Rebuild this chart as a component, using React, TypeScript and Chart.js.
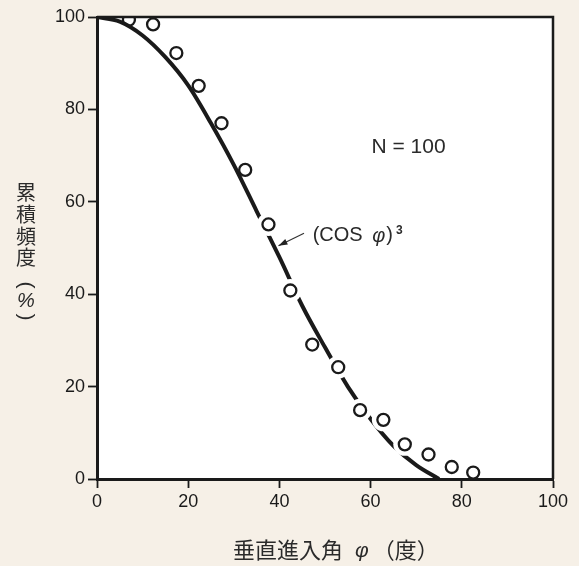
import React, { useEffect, useRef } from "react";
import { Chart, registerables } from "chart.js";

Chart.register(...registerables);

// Theoretical curve
const curveAngle = [0, 5, 10, 15, 20, 25, 30, 35, 40, 45, 50, 55, 60, 65, 70, 75];
const curveFreq = [100, 99, 96, 91.3, 85.2, 77, 68, 58, 48, 37.5, 28.5, 20, 13, 7.2, 3, 0];

// Observed points
const obsAngle = [7, 12.3, 17.4, 22.3, 27.3, 32.5, 37.6, 42.4, 47.2, 52.9, 57.7, 62.8, 67.5, 72.7, 77.8, 82.5];
const obsFreq = [99.4, 98.4, 92.2, 85.1, 77.0, 66.9, 55.1, 40.8, 29.1, 24.2, 14.9, 12.8, 7.5, 5.3, 2.6, 1.4];

// observed points where the printed curve is broken around the circle
const gapIndex = [6, 7, 9, 10, 11, 12];

const xTicks = [0, 20, 40, 60, 80, 100];
const yTicks = [0, 20, 40, 60, 80, 100];

const yTitleChars = ["累", "積", "頻", "度"];
const yUnitOpen = "(";
const yUnitSign = "%";
const yUnitClose = ")";
const xTitleMain = "垂直進入角";
const xTitlePhi = "φ";
const xTitleUnit = "（度）";
const nLabel = "N = 100";
const curveLabelA = "(COS ";
const curveLabelPhi = "φ";
const curveLabelB = ")";
const curveLabelExp = "3";

// annotation anchors in data units
const nLabelPos = { x: 60.2, y: 71.9 };
const curveLabelPos = { x: 47.3, y: 52.7 };
const arrowTail = { x: 45.4, y: 53.2 };
const arrowTip = { x: 39.8, y: 50.5 };

const BEIGE = "#f6f0e7";
const INK = "#1a1a1a";
const SANS = "'Liberation Sans', Arial, sans-serif";
const CJK = "'Noto Sans CJK JP', 'Noto Sans CJK SC', sans-serif";

const framePlugin = {
  id: "framePlugin",
  beforeDraw(chart: any) {
    const { ctx, chartArea: a, width, height } = chart;
    ctx.save();
    ctx.fillStyle = BEIGE;
    ctx.fillRect(0, 0, width, height);
    ctx.fillStyle = "#ffffff";
    ctx.fillRect(a.left, a.top, a.right - a.left, a.bottom - a.top);
    ctx.restore();
  },
  afterDraw(chart: any) {
    const { ctx, chartArea: a } = chart;
    const xs = chart.scales.x;
    const ys = chart.scales.y;
    ctx.save();
    ctx.strokeStyle = INK;
    ctx.lineWidth = 2.5;
    ctx.beginPath();
    ctx.moveTo(a.left, a.top);
    ctx.lineTo(a.right, a.top);
    ctx.lineTo(a.right, a.bottom);
    ctx.stroke();

    // y title, stacked vertically
    ctx.fillStyle = "#2a2a2a";
    ctx.font = `20px ${CJK}`;
    ctx.textAlign = "center";
    ctx.textBaseline = "middle";
    const yc = [192, 214, 236, 257];
    yTitleChars.forEach((c, i) => ctx.fillText(c, 26, yc[i]));
    ctx.font = `21px ${SANS}`;
    ctx.save();
    ctx.translate(26, 285);
    ctx.rotate(Math.PI / 2);
    ctx.fillText(yUnitOpen, 0, 0);
    ctx.restore();
    ctx.font = `italic 20px ${SANS}`;
    ctx.fillText(yUnitSign, 26, 301);
    ctx.font = `21px ${SANS}`;
    ctx.save();
    ctx.translate(26, 317);
    ctx.rotate(Math.PI / 2);
    ctx.fillText(yUnitClose, 0, 0);
    ctx.restore();

    // x title
    ctx.textAlign = "left";
    ctx.textBaseline = "middle";
    ctx.font = `22px ${CJK}`;
    const y0 = 550;
    let x0 = 233;
    ctx.fillText(xTitleMain, x0, y0);
    x0 += ctx.measureText(xTitleMain).width + 12;
    ctx.font = `italic 21px ${SANS}`;
    ctx.fillText(xTitlePhi, x0, y0 + 1);
    x0 += ctx.measureText(xTitlePhi).width + 4;
    ctx.font = `22px ${CJK}`;
    ctx.fillText(xTitleUnit, x0, y0);

    // N label
    ctx.font = `21px ${SANS}`;
    ctx.fillText(nLabel, xs.getPixelForValue(nLabelPos.x), ys.getPixelForValue(nLabelPos.y));

    // curve label
    let cx = xs.getPixelForValue(curveLabelPos.x);
    const cy = ys.getPixelForValue(curveLabelPos.y);
    ctx.font = `20px ${SANS}`;
    ctx.fillText(curveLabelA, cx, cy);
    cx += ctx.measureText(curveLabelA).width + 4;
    ctx.font = `italic 20px ${SANS}`;
    ctx.fillText(curveLabelPhi, cx, cy + 1);
    cx += ctx.measureText(curveLabelPhi).width + 1;
    ctx.font = `20px ${SANS}`;
    ctx.fillText(curveLabelB, cx, cy);
    cx += ctx.measureText(curveLabelB).width + 3;
    ctx.font = `bold 12px ${SANS}`;
    ctx.fillText(curveLabelExp, cx, cy - 5);

    // arrow
    const tx = xs.getPixelForValue(arrowTail.x);
    const ty = ys.getPixelForValue(arrowTail.y);
    const hx = xs.getPixelForValue(arrowTip.x);
    const hy = ys.getPixelForValue(arrowTip.y);
    ctx.strokeStyle = "#333";
    ctx.lineWidth = 1.2;
    ctx.beginPath();
    ctx.moveTo(tx, ty);
    ctx.lineTo(hx, hy);
    ctx.stroke();
    const ang = Math.atan2(hy - ty, hx - tx);
    const L = 9, W = 3;
    ctx.fillStyle = "#222";
    ctx.beginPath();
    ctx.moveTo(hx, hy);
    ctx.lineTo(hx - L * Math.cos(ang) + W * Math.sin(ang), hy - L * Math.sin(ang) - W * Math.cos(ang));
    ctx.lineTo(hx - L * Math.cos(ang) - W * Math.sin(ang), hy - L * Math.sin(ang) + W * Math.cos(ang));
    ctx.closePath();
    ctx.fill();
    ctx.restore();
  },
};

export default function App() {
  const ref = useRef<HTMLCanvasElement | null>(null);

  useEffect(() => {
    document.body.style.margin = "0";
    const canvas = ref.current;
    if (!canvas) return;
    const chart = new Chart(canvas, {
      type: "scatter",
      data: {
        datasets: [
          {
            label: "observed",
            data: obsAngle.map((x, i) => ({ x, y: obsFreq[i] })),
            showLine: false,
            pointRadius: 6,
            pointBackgroundColor: "rgba(255,255,255,0)",
            pointBorderColor: INK,
            pointBorderWidth: 2.3,
            order: 1,
          },
          {
            label: "gap",
            data: gapIndex.map((i) => ({ x: obsAngle[i], y: obsFreq[i] })),
            showLine: false,
            pointRadius: 11.5,
            pointBackgroundColor: "#ffffff",
            pointBorderWidth: 0,
            pointBorderColor: "#ffffff",
            order: 2,
          },
          {
            label: "curve",
            data: curveAngle.map((x, i) => ({ x, y: curveFreq[i] })),
            showLine: true,
            borderColor: INK,
            borderWidth: 4,
            pointRadius: 0,
            cubicInterpolationMode: "monotone",
            order: 3,
          } as any,
        ],
      },
      options: {
        responsive: false,
        animation: false,
        layout: { padding: { left: 0, top: 17, right: 26, bottom: 0 } },
        plugins: { legend: { display: false }, tooltip: { enabled: false } },
        scales: {
          x: {
            type: "linear",
            min: 0,
            max: 100,
            afterFit: (s: any) => {
              s.height = 87;
            },
            afterBuildTicks: (s: any) => {
              s.ticks = xTicks.map((v) => ({ value: v }));
            },
            ticks: {
              color: "#1a1a1a",
              font: { family: SANS, size: 18 },
              padding: 3,
              maxRotation: 0,
              autoSkip: false,
            },
            grid: {
              drawOnChartArea: false,
              drawTicks: true,
              tickLength: 9,
              tickWidth: 1.8,
              tickColor: INK,
            },
            border: { display: true, width: 3, color: INK },
          },
          y: {
            type: "linear",
            min: 0,
            max: 100,
            afterFit: (s: any) => {
              s.width = 97;
            },
            afterBuildTicks: (s: any) => {
              s.ticks = yTicks.map((v) => ({ value: v }));
            },
            ticks: {
              color: "#1a1a1a",
              font: { family: SANS, size: 18 },
              padding: 3,
              autoSkip: false,
            },
            grid: {
              drawOnChartArea: false,
              drawTicks: true,
              tickLength: 9,
              tickWidth: 1.8,
              tickColor: INK,
            },
            border: { display: true, width: 3, color: INK },
          },
        },
      },
      plugins: [framePlugin],
    });
    return () => chart.destroy();
  }, []);

  return (
    <div style={{ position: "absolute", left: 0, top: 0, width: 579, height: 566 }}>
      <canvas ref={ref} width={579} height={566} />
    </div>
  );
}
